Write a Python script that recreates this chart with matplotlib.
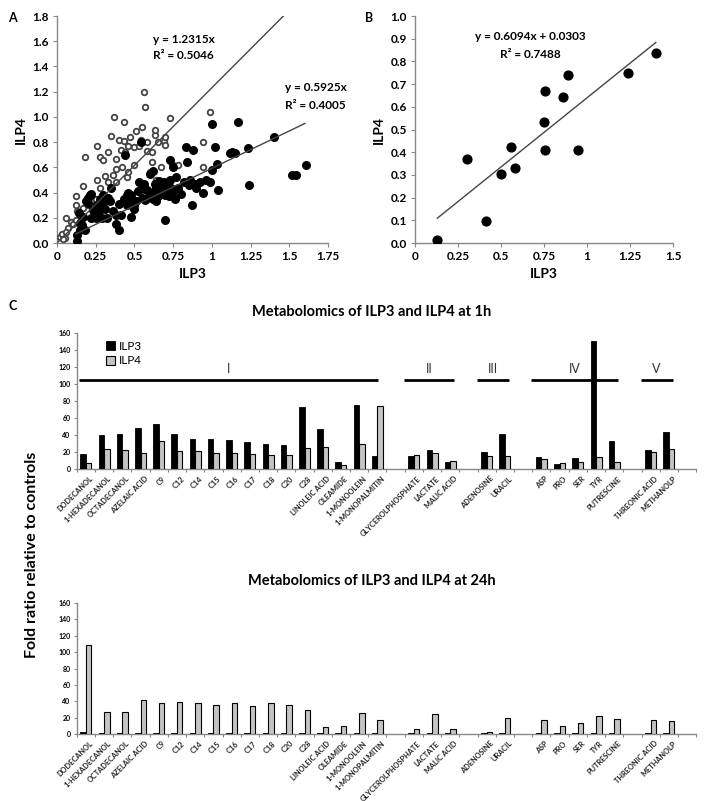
import matplotlib
matplotlib.use("Agg")
import matplotlib.pyplot as plt
import numpy as np

plt.rcParams['font.family'] = ['Lato', 'DejaVu Sans']

# ---------------- Panel A data ----------------
a_open_x = [0.02,0.03,0.05,0.06,0.07,0.09,0.10,0.12,0.12,0.13,0.15,0.17,0.17,0.18,0.20,0.22,0.26,0.26,0.28,0.28,
            0.30,0.31,0.33,0.33,0.35,0.36,0.37,0.38,0.38,0.38,0.40,0.41,0.42,0.43,0.43,0.44,0.45,0.46,0.47,0.50,
            0.50,0.51,0.53,0.54,0.55,0.56,0.57,0.58,0.58,0.60,0.61,0.61,0.63,0.63,0.65,0.67,0.69,0.70,0.70,0.73,
            0.74,0.78,0.94,0.94,0.99,0.57,0.30,0.64,0.46,0.12,0.06,0.04,0.25,0.68]
a_open_y = [0.05,0.07,0.04,0.20,0.12,0.17,0.15,0.37,0.30,0.25,0.22,0.28,0.45,0.68,0.30,0.33,0.50,0.77,0.44,0.68,
            0.66,0.53,0.48,0.72,0.85,0.54,1.00,0.48,0.67,0.59,0.82,0.74,0.60,0.96,0.81,0.72,0.52,0.77,0.84,0.62,
            0.76,0.89,0.77,0.82,0.92,1.20,1.08,0.80,0.73,0.56,0.72,0.64,0.86,0.90,0.80,0.60,0.81,0.84,0.78,0.99,
            0.63,0.62,0.80,0.60,1.04,0.38,0.37,0.50,0.56,0.18,0.09,0.03,0.35,0.42]
a_fill_x = [0.13,0.13,0.15,0.18,0.14,0.15,0.17,0.20,0.20,0.21,0.22,0.23,0.22,0.25,0.26,0.28,0.29,0.30,0.30,0.31,
            0.32,0.33,0.34,0.35,0.36,0.38,0.38,0.40,0.40,0.41,0.43,0.44,0.45,0.46,0.47,0.48,0.48,0.50,0.50,0.51,
            0.53,0.54,0.55,0.56,0.57,0.58,0.60,0.60,0.61,0.62,0.63,0.63,0.64,0.65,0.66,0.67,0.68,0.69,0.70,0.70,
            0.71,0.72,0.73,0.73,0.74,0.75,0.76,0.77,0.78,0.80,0.82,0.83,0.84,0.85,0.86,0.87,0.88,0.89,0.90,0.92,
            0.94,0.96,0.99,1.00,1.00,1.02,1.03,1.04,1.12,1.13,1.15,1.17,1.23,1.24,1.40,1.52,1.54,1.61,0.58,0.52,
            0.45,0.27,0.24,0.19,0.16,0.62,0.68,0.64,0.66,0.55,0.72,0.76]
a_fill_y = [0.02,0.06,0.10,0.10,0.24,0.16,0.21,0.36,0.32,0.38,0.39,0.26,0.20,0.20,0.30,0.35,0.20,0.38,0.32,0.27,
            0.20,0.36,0.33,0.44,0.25,0.15,0.22,0.10,0.31,0.22,0.35,0.70,0.30,0.40,0.33,0.21,0.38,0.30,0.27,0.33,
            0.48,0.80,0.44,0.47,0.34,0.36,0.40,0.55,0.38,0.35,0.42,0.47,0.36,0.37,0.49,0.40,0.39,0.48,0.18,0.38,
            0.42,0.45,0.50,0.66,0.40,0.60,0.43,0.52,0.44,0.39,0.48,0.76,0.64,0.46,0.50,0.30,0.74,0.47,0.44,0.48,
            0.40,0.50,0.48,0.94,0.58,0.76,0.63,0.42,0.71,0.72,0.71,0.96,0.75,0.46,0.84,0.54,0.54,0.62,0.42,0.41,
            0.38,0.25,0.27,0.33,0.14,0.57,0.47,0.33,0.45,0.36,0.37,0.35]
a_slope_open = 1.2315
a_slope_fill = 0.5925

# ---------------- Panel B data ----------------
b_x = [0.13,0.30,0.41,0.50,0.56,0.58,0.75,0.755,0.755,0.86,0.89,0.95,1.24,1.40]
b_y = [0.015,0.37,0.095,0.305,0.425,0.33,0.535,0.67,0.41,0.645,0.74,0.41,0.75,0.835]
b_slope, b_icpt = 0.6094, 0.0303

# ---------------- Panel C data ----------------
groups = ['I', 'II', 'III', 'IV', 'V']
group_members = [
    ['DODECANOL', '1-HEXADECANOL', 'OCTADECANOL', 'AZELAIC ACID', 'C9', 'C12', 'C14', 'C15', 'C16', 'C17',
     'C18', 'C20', 'C28', 'LINOLEIC ACID', 'OLEAMIDE', '1-MONOOLEIN', '1-MONOPALMITIN'],
    ['GLYCEROLPHOSPHATE', 'LACTATE', 'MALIC ACID'],
    ['ADENOSINE', 'URACIL'],
    ['ASP', 'PRO', 'SER', 'TYR', 'PUTRESCINE'],
    ['THREONIC ACID', 'METHANOLP'],
]
ilp3_1h = [17.7, 39.7, 41.3, 48, 53.4, 41.3, 35.8, 35.8, 34.2, 31.8, 29, 27.9, 72.7, 46.8, 8.6, 75.4, 15.7,
           15.7, 22.4, 8.6,
           20.4, 41.3,
           14.5, 6.3, 13, 150, 33,
           22.4, 44]
ilp4_1h = [7.5, 23.6, 22.4, 19.3, 33.4, 20.8, 20.8, 19.3, 19.3, 18, 16.9, 16.9, 25, 26.3, 4.7, 29, 73.9,
           16.9, 18.5, 9.8,
           15.7, 15.7,
           11.4, 7.5, 8.6, 14.1, 8.6,
           19.6, 23.6]
ilp3_24h = [2.8, 1, 1, 1, 1, 1, 1, 1, 1, 1, 1, 1, 1, 1, 1, 1, 1,
            1, 1, 1,
            1.5, 1,
            1, 1, 1, 1, 1,
            1, 1]
ilp4_24h = [108.5, 27, 27, 41.3, 38.5, 39.7, 38.5, 35.6, 38.5, 34.4, 38.5, 35.6, 29.6, 8.5, 10.1, 25.5, 17.4,
            6.1, 24.3, 6.1,
            3, 19.8,
            17.4, 10.1, 13.4, 21.5, 18.6,
            17.4, 15.8]
yticks_bar = [0, 20, 40, 60, 80, 100, 120, 140, 160]

# positions: one empty slot between groups and one after the last group
cats, pos, spans = [], [], []
p = 0
for g, members in zip(groups, group_members):
    start = p
    for m in members:
        cats.append(m)
        pos.append(p)
        p += 1
    spans.append((g, start, p - 1))
    p += 1
nslots = p
pos = np.array(pos)

fig = plt.figure(figsize=(7.04, 8.01), dpi=100)

def style_axes(ax):
    ax.spines['top'].set_visible(False)
    ax.spines['right'].set_visible(False)
    for s in ['left', 'bottom']:
        ax.spines[s].set_color('#888888')
        ax.spines[s].set_linewidth(1.0)

# ---------- Panel A ----------
axA = fig.add_axes([0.081, 0.6966, 0.385, 0.2834])
style_axes(axA)
axA.scatter(a_open_x, a_open_y, s=16, facecolors='white', edgecolors='#444444', linewidths=1.3, zorder=3)
axA.scatter(a_fill_x, a_fill_y, s=30, color='black', zorder=4)
xa = np.array([0, 1.8 / a_slope_open])
axA.plot(xa, a_slope_open * xa, color='#444444', lw=1.0, zorder=5)
xf = np.array([0.12, 1.6])
axA.plot(xf, a_slope_fill * xf, color='#444444', lw=1.0, zorder=5)
axA.set_xlim(0, 1.75)
axA.set_ylim(0, 1.8)
axA.set_xticks(np.arange(0, 1.76, 0.25))
axA.set_xticklabels(['0', '0.25', '0.5', '0.75', '1', '1.25', '1.5', '1.75'])
axA.set_yticks(np.arange(0, 1.81, 0.2))
axA.set_yticklabels(['%.1f' % v for v in np.arange(0, 1.81, 0.2)])
axA.tick_params(labelsize=8.5, length=3, color='#888888', pad=3)
for lab in axA.get_xticklabels() + axA.get_yticklabels():
    lab.set_fontweight('bold')
axA.set_xlabel('ILP3', fontsize=10, fontweight='bold', labelpad=4)
axA.set_ylabel('ILP4', fontsize=10, fontweight='bold', labelpad=4)
axA.text(0.62, 1.61, 'y = %.4fx' % a_slope_open, fontsize=8.5, fontweight='bold', ha='left', va='center')
axA.text(0.62, 1.49, 'R² = 0.5046', fontsize=8.5, fontweight='bold', ha='left', va='center')
axA.text(1.47, 1.23, 'y = %.4fx' % a_slope_fill, fontsize=8.5, fontweight='bold', ha='left', va='center')
axA.text(1.47, 1.09, 'R² = 0.4005', fontsize=8.5, fontweight='bold', ha='left', va='center')
fig.text(0.012, 0.985, 'A', fontsize=9, fontweight='bold', va='top')

# ---------- Panel B ----------
axB = fig.add_axes([0.5895, 0.6966, 0.3665, 0.2834])
style_axes(axB)
axB.scatter(b_x, b_y, s=40, color='black', zorder=4)
xb = np.array([min(b_x), max(b_x)])
axB.plot(xb, b_slope * xb + b_icpt, color='#444444', lw=1.0, zorder=3)
axB.set_xlim(0, 1.5)
axB.set_ylim(0, 1.0)
axB.set_xticks(np.arange(0, 1.51, 0.25))
axB.set_xticklabels(['0', '0.25', '0.5', '0.75', '1', '1.25', '1.5'])
axB.set_yticks(np.arange(0, 1.01, 0.1))
axB.set_yticklabels(['%.1f' % v for v in np.arange(0, 1.01, 0.1)])
axB.tick_params(labelsize=8.5, length=3, color='#888888', pad=3)
for lab in axB.get_xticklabels() + axB.get_yticklabels():
    lab.set_fontweight('bold')
axB.set_xlabel('ILP3', fontsize=10, fontweight='bold', labelpad=4)
axB.set_ylabel('ILP4', fontsize=10, fontweight='bold', labelpad=4)
axB.text(0.67, 0.91, 'y = %.4fx + %.4f' % (b_slope, b_icpt), fontsize=8.5, fontweight='bold', ha='center', va='center')
axB.text(0.67, 0.83, 'R² = 0.7488', fontsize=8.5, fontweight='bold', ha='center', va='center')
fig.text(0.518, 0.985, 'B', fontsize=9, fontweight='bold', va='top')

# ---------- Panel C ----------
def bar_panel(rect, v3, v4, title, title_y, legend=False, grouplines=False):
    ax = fig.add_axes(rect)
    style_axes(ax)
    w = 0.3
    b3 = ax.bar(pos - 0.15, v3, width=w, color='black', edgecolor='black', linewidth=0.6, label='ILP3', zorder=3)
    b4 = ax.bar(pos + 0.15, v4, width=w, color='#c4c4c4', edgecolor='black', linewidth=0.8, label='ILP4', zorder=3)
    ax.set_xlim(-0.5, nslots - 0.5)
    ax.set_ylim(0, 160)
    ax.set_yticks(yticks_bar)
    ax.set_yticklabels([str(v) for v in yticks_bar])
    ax.set_xticks(np.arange(-0.5, nslots, 1.0), minor=False)
    ax.set_xticklabels([])
    ax.tick_params(axis='x', length=2.5, color='#888888', direction='out')
    ax.tick_params(axis='y', labelsize=5, length=2.5, color='#888888', pad=2)
    for lab in ax.get_yticklabels():
        lab.set_fontweight('bold')
    for c, x in zip(cats, pos):
        ax.text(x + 0.2, -7, c, rotation=45, ha='right', va='top', fontsize=5.3,
                fontweight='bold', rotation_mode='anchor', color='#222222')
    if legend:
        ax.legend(handles=[b3, b4], loc='upper left', bbox_to_anchor=(0.03, 1.02), frameon=False,
                  fontsize=8.5, handlelength=0.8, handleheight=0.8, handletextpad=0.3, labelspacing=0.3)
    if grouplines:
        for g, s, e in spans:
            x0 = s - 0.35 if s == 0 else s - 0.55
            x1 = e + (0.05 if s == 0 else 0.2)
            ax.plot([x0, x1], [105, 105], color='black', lw=2.0, zorder=4, solid_capstyle='butt')
            ax.text((x0 + x1) / 2, 110, g, ha='center', va='bottom', fontsize=9, color='#333333')
    fig.text(0.528, title_y, title, ha='center', va='center', fontsize=10.5, fontweight='bold')
    return ax

bar_panel([0.109, 0.4145, 0.88, 0.1698], ilp3_1h, ilp4_1h, 'Metabolomics of ILP3 and ILP4 at 1h',
          1 - 312 / 801, legend=True, grouplines=True)
bar_panel([0.109, 0.0836, 0.88, 0.1635], ilp3_24h, ilp4_24h, 'Metabolomics of ILP3 and ILP4 at 24h',
          1 - 581 / 801)
fig.text(0.012, 1 - 300 / 801, 'C', fontsize=9, fontweight='bold', va='top')
fig.text(0.045, 1 - 555 / 801, 'Fold ratio relative to controls', rotation=90, ha='center', va='center',
         fontsize=11.5, fontweight='bold')

fig.savefig('out.png', dpi=100)
